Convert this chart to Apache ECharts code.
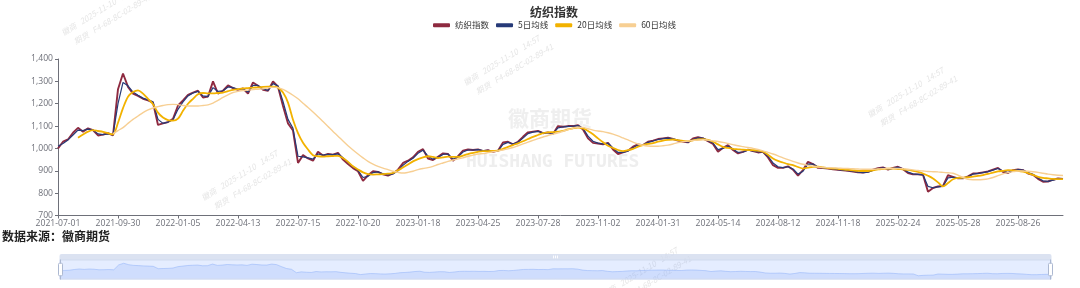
<!DOCTYPE html>
<html><head><meta charset="utf-8">
<script src="https://cdn.jsdelivr.net/npm/echarts@6/dist/echarts.min.js"></script>
<style>html,body{margin:0;padding:0;background:#fff}#c{width:1080px;height:288px}</style>
</head><body><div id="c"></div>
<script>
const dates = [
'2021-07-01','2021-07-08','2021-07-15','2021-07-22','2021-07-29','2021-08-05','2021-08-12','2021-08-19','2021-08-26','2021-09-02','2021-09-09','2021-09-17',
'2021-09-30','2021-10-14','2021-10-21','2021-10-28','2021-11-04','2021-11-11','2021-11-18','2021-11-25','2021-12-02','2021-12-09','2021-12-16','2021-12-23',
'2022-01-05','2022-01-12','2022-01-19','2022-01-26','2022-02-09','2022-02-16','2022-02-23','2022-03-02','2022-03-09','2022-03-16','2022-03-23','2022-03-30',
'2022-04-13','2022-04-20','2022-04-27','2022-05-09','2022-05-16','2022-05-23','2022-05-30','2022-06-07','2022-06-14','2022-06-21','2022-06-28','2022-07-07',
'2022-07-15','2022-07-22','2022-07-29','2022-08-05','2022-08-12','2022-08-19','2022-08-26','2022-09-02','2022-09-09','2022-09-19','2022-09-26','2022-10-12',
'2022-10-20','2022-10-27','2022-11-03','2022-11-10','2022-11-17','2022-11-24','2022-12-01','2022-12-08','2022-12-15','2022-12-22','2022-12-29','2023-01-09',
'2023-01-18','2023-02-01','2023-02-08','2023-02-15','2023-02-22','2023-03-01','2023-03-08','2023-03-15','2023-03-22','2023-03-29','2023-04-06','2023-04-17',
'2023-04-25','2023-05-05','2023-05-12','2023-05-19','2023-05-26','2023-06-02','2023-06-09','2023-06-16','2023-06-28','2023-07-05','2023-07-12','2023-07-19',
'2023-07-28','2023-08-04','2023-08-11','2023-08-18','2023-08-25','2023-09-01','2023-09-08','2023-09-15','2023-09-22','2023-10-09','2023-10-16','2023-10-26',
'2023-11-02','2023-11-09','2023-11-16','2023-11-23','2023-11-30','2023-12-07','2023-12-14','2023-12-21','2023-12-28','2024-01-05','2024-01-12','2024-01-22',
'2024-01-31','2024-02-07','2024-02-21','2024-02-28','2024-03-06','2024-03-13','2024-03-20','2024-03-27','2024-04-03','2024-04-12','2024-04-19','2024-04-29',
'2024-05-14','2024-05-21','2024-05-28','2024-06-04','2024-06-12','2024-06-19','2024-06-26','2024-07-03','2024-07-10','2024-07-17','2024-07-24','2024-08-01',
'2024-08-12','2024-08-19','2024-08-26','2024-09-02','2024-09-09','2024-09-18','2024-09-25','2024-10-09','2024-10-16','2024-10-23','2024-10-30','2024-11-08',
'2024-11-18','2024-11-25','2024-12-02','2024-12-09','2024-12-16','2024-12-23','2024-12-30','2025-01-07','2025-01-14','2025-01-21','2025-02-05','2025-02-14',
'2025-02-24','2025-03-03','2025-03-10','2025-03-17','2025-03-24','2025-03-31','2025-04-08','2025-04-15','2025-04-22','2025-04-29','2025-05-09','2025-05-20',
'2025-05-28','2025-06-05','2025-06-12','2025-06-19','2025-06-26','2025-07-03','2025-07-10','2025-07-17','2025-07-24','2025-07-31','2025-08-07','2025-08-19',
'2025-08-26','2025-09-02','2025-09-09','2025-09-16','2025-09-23','2025-10-09','2025-10-16','2025-10-23','2025-10-30','2025-11-06'
];

const textileIndex = [
1000,1030,1040,1070,1092,1075,1090,1082,1058,1062,1068,1058,
1265,1335,1275,1245,1235,1222,1215,1205,1105,1112,1118,1132,
1192,1215,1240,1250,1258,1228,1232,1300,1245,1258,1282,1270,
1262,1268,1245,1295,1280,1262,1258,1300,1276,1190,1112,1080,
935,970,955,945,985,968,975,972,980,950,930,912,
898,855,880,898,895,884,878,888,905,935,945,960,
985,997,955,948,963,978,975,945,965,990,995,993,
996,988,992,985,990,1027,1030,1018,1030,1052,1072,1075,
1078,1068,1072,1065,1100,1097,1100,1100,1104,1085,1045,1025,
1022,1018,1025,995,975,982,990,1008,1018,1015,1030,1035,
1042,1045,1048,1042,1035,1030,1027,1045,1050,1045,1032,1020,
985,1003,1015,993,978,985,995,988,982,985,960,925,
913,913,920,905,878,903,940,930,913,912,910,907,
904,902,900,897,893,892,895,905,912,915,905,913,
918,907,890,884,884,882,806,823,830,832,880,873,
866,866,875,888,889,893,897,905,913,895,890,903,
906,903,888,882,864,851,852,860,866,863
];

const ma5 = [
1010,1022,1038,1060,1082,1080,1086,1082,1065,1062,1065,1060,
1200,1295,1280,1252,1238,1225,1217,1208,1130,1112,1118,1128,
1175,1208,1235,1248,1255,1235,1232,1272,1255,1258,1275,1272,
1264,1265,1252,1282,1282,1266,1260,1290,1280,1210,1130,1090,
965,962,958,952,975,970,973,972,976,958,938,918,
902,870,875,892,895,887,881,886,900,925,942,956,
978,992,965,952,960,973,975,952,962,984,993,993,
995,990,991,987,989,1018,1027,1020,1028,1046,1066,1073,
1076,1070,1071,1067,1092,1096,1099,1100,1102,1090,1055,1032,
1024,1020,1023,1002,982,982,988,1003,1015,1015,1027,1033,
1040,1044,1046,1043,1037,1032,1028,1040,1047,1046,1035,1024,
995,1000,1010,997,982,984,992,989,984,984,965,935,
918,914,918,908,885,898,930,930,917,913,911,908,
905,903,901,898,894,892,894,902,910,913,907,911,
916,909,894,886,884,882,830,824,828,831,868,871,
867,866,873,885,888,892,896,903,910,899,892,900,
905,903,892,884,868,855,853,858,864,863
];

const ma20 = [
null,null,null,null,1048,1062,1075,1082,1078,1074,1068,1063,
1115,1180,1231,1252,1260,1245,1222,1198,1160,1138,1127,1124,
1133,1168,1200,1222,1242,1248,1246,1246,1248,1250,1256,1262,
1265,1268,1270,1272,1273,1275,1276,1276,1272,1250,1205,1128,
1068,1025,995,970,965,963,965,966,967,957,940,920,
906,893,885,883,884,885,887,890,902,915,928,942,
952,960,965,962,957,960,963,962,962,968,975,980,
985,988,988,989,990,998,1007,1015,1023,1032,1042,1052,
1060,1068,1072,1073,1075,1078,1085,1090,1093,1090,1078,1063,
1045,1028,1012,1002,993,988,992,998,1008,1015,1020,1024,
1030,1035,1038,1040,1037,1034,1033,1036,1040,1042,1038,1030,
1018,1007,1002,998,996,994,993,992,990,985,972,955,
944,937,930,925,917,910,914,918,918,915,912,910,
909,906,904,902,900,899,899,902,906,908,910,910,
908,906,904,900,895,888,878,866,848,830,845,862,
868,869,871,874,877,881,886,892,897,900,903,902,
900,896,890,882,873,868,866,864,863,863
];

const ma60 = [
null,null,null,null,null,null,null,null,null,null,null,1066,
1080,1093,1112,1130,1145,1160,1172,1181,1187,1192,1196,1197,
1196,1192,1190,1190,1190,1192,1195,1203,1215,1228,1240,1250,
1255,1259,1261,1263,1265,1267,1270,1274,1272,1264,1252,1238,
1222,1202,1183,1163,1142,1120,1098,1076,1055,1033,1012,993,
975,958,942,930,920,912,905,898,893,890,893,898,
905,910,914,920,928,935,942,948,953,958,965,970,
975,977,981,985,989,993,998,1004,1012,1020,1028,1036,
1044,1051,1058,1064,1070,1077,1084,1090,1095,1094,1088,1082,
1078,1075,1070,1064,1056,1047,1038,1028,1020,1014,1011,1010,
1010,1012,1015,1020,1026,1030,1033,1036,1038,1039,1037,1034,
1031,1027,1022,1017,1012,1008,1004,1000,995,989,982,975,
967,958,950,942,935,929,924,920,917,915,914,913,
912,911,910,909,908,907,907,907,908,909,910,910,
910,909,907,904,901,899,897,896,895,893,891,889,
880,870,862,860,860,861,864,870,878,886,892,896,
899,899,898,896,893,889,885,882,880,879
];

const seriesNames = ['纺织指数', '5日均线', '20日均线', '60日均线'];
const yTicks = { min: 700, max: 1400, step: 100 };
const titleText = '纺织指数';
const sourceText = '数据来源：徽商期货';
const wmLine1 = '徽商   2025-11-10   14:57';
const wmLine2 = '期货   F4-68-8C-02-89-41';

const colors = ['#8E2A40', '#263A78', '#F2B200', '#F7CF93'];
const widths = [1.9, 1.2, 1.8, 1.4];
const seriesData = [textileIndex, ma5, ma20, ma60];
const cjk = '"Noto Sans CJK SC", sans-serif';

function stamp(x, y) {
  return {
    type: 'group', x: x, y: y, rotation: 0.55, z: 0, silent: true,
    children: [
      { type: 'text', x: 0, y: 0, style: { text: wmLine1, font: 'italic 8px "Noto Sans CJK SC"', fill: '#e6e6e6' } },
      { type: 'text', x: 6, y: 14, style: { text: wmLine2, font: 'italic 8px "Noto Sans CJK SC"', fill: '#e6e6e6' } }
    ]
  };
}

const chart = echarts.init(document.getElementById('c'));
chart.setOption({
  animation: false,
  backgroundColor: '#fff',
  title: {
    text: titleText, left: 530, top: 6, padding: 0,
    textStyle: { fontSize: 12, fontWeight: 'bold', color: '#333', fontFamily: cjk }
  },
  legend: {
    left: 433, top: 21, padding: 0, icon: 'roundRect',
    itemWidth: 17, itemHeight: 4, itemGap: 7,
    textStyle: { fontSize: 8.5, color: '#333', fontFamily: cjk },
    data: seriesNames
  },
  grid: { left: 58, right: 17, top: 59, bottom: 72.5 },
  xAxis: {
    type: 'category', data: dates, boundaryGap: false,
    axisLine: { lineStyle: { color: '#6E7079' } },
    axisTick: { interval: 11, length: 3, alignWithLabel: true },
    axisLabel: { interval: 11, fontSize: 8.6, color: '#6E7079', margin: 4, fontFamily: '"Open Sans", sans-serif' }
  },
  yAxis: {
    type: 'value', min: yTicks.min, max: yTicks.max, interval: yTicks.step,
    axisLine: { show: true, lineStyle: { color: '#6E7079' } },
    axisTick: { show: true, length: 3 },
    axisLabel: { fontSize: 8.6, color: '#6E7079', margin: 5, fontFamily: '"Open Sans", sans-serif' },
    splitLine: { show: false }
  },
  dataZoom: [{
    type: 'slider', xAxisIndex: 0, start: 0, end: 100,
    left: 57, right: 31, top: 254, height: 20,
    showDetail: false, brushSelect: true, moveHandleSize: 6,
    borderColor: '#d2dbee', backgroundColor: 'rgba(47,69,84,0)',
    fillerColor: 'rgba(135,175,274,0.22)',
    dataBackground: { lineStyle: { color: '#d2dbee', width: 0.5 }, areaStyle: { color: '#d2dbee', opacity: 0.4 } },
    selectedDataBackground: { lineStyle: { color: '#8fb0f7', width: 0.5 }, areaStyle: { color: '#8fb0f7', opacity: 0.25 } },
    handleIcon: 'path://M-9.35,34.56V42m0-40V9.5m-2,0h4a2,2,0,0,1,2,2v21a2,2,0,0,1-2,2h-4a2,2,0,0,1-2-2v-21A2,2,0,0,1-11.35,9.5Z',
    handleSize: '100%', handleStyle: { color: '#fff', borderColor: '#ACB8D1' },
    moveHandleStyle: { color: '#D2DBEE', opacity: 0.8 }
  }],
  graphic: [
    { type: 'text', left: 508, top: 108, z: 0, silent: true,
      style: { text: '徽商期货', font: 'bold 21px "Noto Sans CJK SC"', fill: '#efefef' } },
    { type: 'text', left: 466, top: 153, z: 0, silent: true,
      style: { text: 'HUISHANG FUTURES', font: 'bold 18px "DejaVu Sans Mono"', fill: '#eeeeee' } },
    stamp(462, 80), stamp(866, 112), stamp(60, 30), stamp(200, 195), stamp(600, 292),
    { type: 'text', left: 2, top: 230, z: 10,
      style: { text: sourceText, font: 'bold 12px "Noto Sans CJK SC"', fill: '#222' } }
  ],
  series: seriesNames.map((name, k) => ({
    name, type: 'line', data: seriesData[k], showSymbol: false,
    smooth: k >= 2 ? 0.3 : false, connectNulls: false,
    lineStyle: { color: colors[k], width: widths[k] },
    itemStyle: { color: colors[k] }, z: 2 + k
  }))
});
</script>
</body></html>
